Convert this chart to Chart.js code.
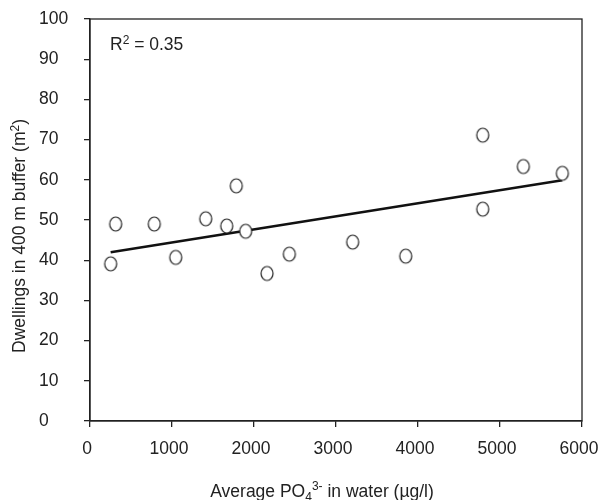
<!DOCTYPE html>
<html>
<head>
<meta charset="utf-8">
<script src="https://cdn.jsdelivr.net/npm/chart.js@4.4.1/dist/chart.umd.min.js"></script>
<style>
  html, body { margin: 0; padding: 0; background: #fff; }
  #wrap { width: 598px; height: 500px; }
</style>
</head>
<body>
<div id="wrap"><canvas id="c" width="598" height="500"></canvas></div>
<script>
// Average phosphate concentration per site (µg/l) and dwellings in the 400 m buffer
const phosphate = [252, 313, 784, 1045, 1411, 1667, 1784, 1898, 2159, 2431, 3203, 3850, 4789, 4789, 5285, 5760];
const dwellings = [39.1, 49.0, 49.0, 40.7, 50.3, 48.5, 58.5, 47.2, 36.7, 41.5, 44.5, 41.0, 71.1, 52.7, 63.3, 61.6];

// Linear trend line end points
const trendX = [252, 5760];
const trendY = [42.0, 59.9];
const rSquared = 0.35;

// Axis ticks
const xTicks = [0, 1000, 2000, 3000, 4000, 5000, 6000];
const yTicks = [0, 10, 20, 30, 40, 50, 60, 70, 80, 90, 100];

const FONT = "'Liberation Sans', Arial, Helvetica, sans-serif";
const INK = '#222222';
const FS = 17.5;

// Open elliptical marker
function makeMarker() {
  const m = document.createElement('canvas');
  m.width = 16; m.height = 18;
  const g = m.getContext('2d');
  g.beginPath();
  g.ellipse(8, 9, 6.0, 7.0, 0, 0, Math.PI * 2);
  g.fillStyle = '#ffffff';
  g.fill();
  g.lineWidth = 1.2;
  g.strokeStyle = INK;
  g.stroke();
  return m;
}
const marker = makeMarker();

// Text pieces with super/subscripts
function richWidth(ctx, parts) {
  let w = 0;
  for (const p of parts) {
    ctx.font = (p.size || FS) + 'px ' + FONT;
    w += ctx.measureText(p.t).width;
  }
  return w;
}
function drawRich(ctx, parts, x, y) {
  for (const p of parts) {
    ctx.font = (p.size || FS) + 'px ' + FONT;
    ctx.fillText(p.t, x, y + (p.dy || 0));
    x += ctx.measureText(p.t).width;
  }
}

const decorations = {
  id: 'decorations',
  afterDraw(chart) {
    const ctx = chart.ctx;
    const a = chart.chartArea;
    ctx.save();
    // plot frame
    ctx.strokeStyle = INK;
    ctx.lineWidth = 1.3;
    ctx.strokeRect(a.left, a.top, a.right - a.left, a.bottom - a.top);

    ctx.fillStyle = INK;
    ctx.textAlign = 'left';
    ctx.textBaseline = 'alphabetic';

    // R² annotation
    drawRich(ctx, [
      { t: 'R' },
      { t: '2', size: 12, dy: -6.5 },
      { t: ' = ' + rSquared.toFixed(2) }
    ], a.left + 20, 50);

    // x-axis title
    const xt = [
      { t: 'Average PO' },
      { t: '4', size: 12, dy: 4 },
      { t: '3-', size: 12, dy: -7 },
      { t: ' in water (\u00b5g/l)' }
    ];
    const xw = richWidth(ctx, xt);
    drawRich(ctx, xt, 322 - xw / 2, 496.5);

    // y-axis title
    const yt = [
      { t: 'Dwellings in 400 m buffer (m' },
      { t: '2', size: 12, dy: -6.5 },
      { t: ')' }
    ];
    const yw = richWidth(ctx, yt);
    ctx.translate(25, 236);
    ctx.rotate(-Math.PI / 2);
    drawRich(ctx, yt, -yw / 2, 0);
    ctx.restore();
  }
};

new Chart(document.getElementById('c'), {
  type: 'scatter',
  data: {
    datasets: [
      {
        label: 'Sites',
        data: phosphate.map((x, i) => ({ x: x, y: dwellings[i] })),
        pointStyle: marker,
        pointRadius: 7,
        pointHoverRadius: 7
      },
      {
        label: 'Trend',
        type: 'line',
        data: trendX.map((x, i) => ({ x: x, y: trendY[i] })),
        borderColor: '#111111',
        borderWidth: 2.5,
        pointRadius: 0,
        fill: false
      }
    ]
  },
  options: {
    responsive: false,
    animation: false,
    events: [],
    layout: { padding: { top: 19, right: 16, left: 39, bottom: 0 } },
    plugins: { legend: { display: false }, tooltip: { enabled: false } },
    scales: {
      x: {
        type: 'linear',
        min: 0, max: 6000,
        afterBuildTicks: s => { s.ticks = xTicks.map(v => ({ value: v })); },
        afterFit: s => { s.height = 79; s.paddingLeft = 0; s.paddingRight = 0; },
        grid: { drawOnChartArea: false, drawTicks: true, tickLength: 6, color: INK, lineWidth: 1.3 },
        border: { display: true, color: INK, width: 1.3 },
        ticks: {
          color: INK, font: { family: FONT, size: FS }, padding: 12, labelOffset: -3,
          maxRotation: 0, autoSkip: false, callback: v => String(v)
        },
        title: { display: false }
      },
      y: {
        type: 'linear',
        min: 0, max: 100,
        afterBuildTicks: s => { s.ticks = yTicks.map(v => ({ value: v })); },
        afterFit: s => { s.width = 51; s.paddingTop = 0; s.paddingBottom = 0; },
        grid: { drawOnChartArea: false, drawTicks: true, tickLength: 6, color: INK, lineWidth: 1.3 },
        border: { display: true, color: INK, width: 1.3 },
        ticks: {
          color: INK, font: { family: FONT, size: FS }, crossAlign: 'far', padding: 10,
          autoSkip: false, callback: v => String(v)
        },
        title: { display: false }
      }
    }
  },
  plugins: [decorations]
});
</script>
</body>
</html>
